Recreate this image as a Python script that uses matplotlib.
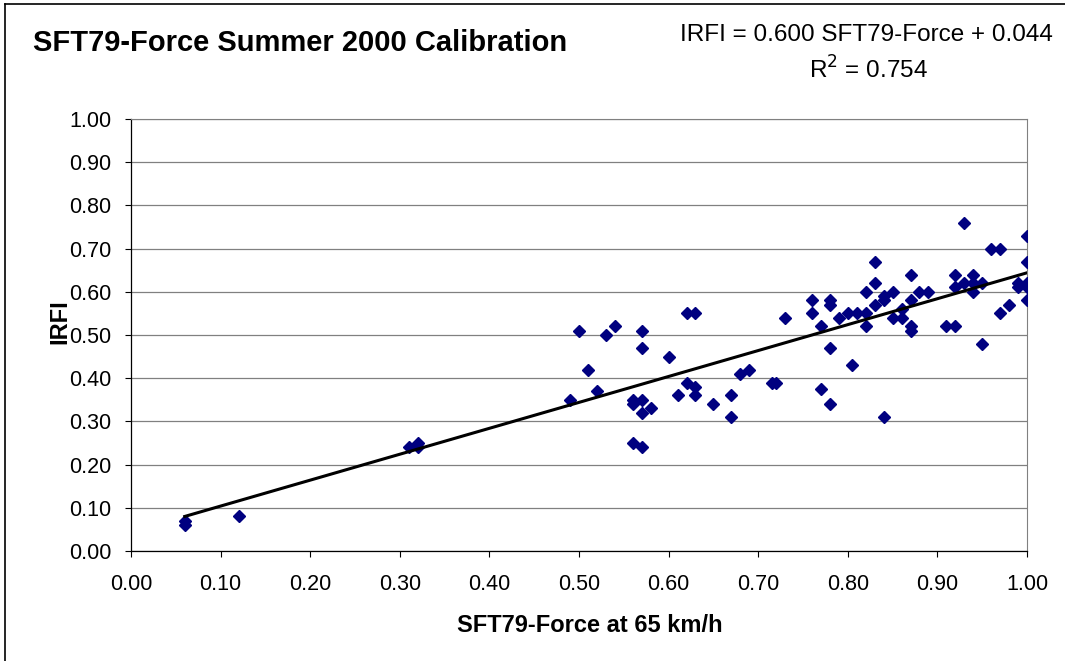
import matplotlib
matplotlib.use("Agg")
import matplotlib.pyplot as plt
from matplotlib.lines import Line2D
import numpy as np

plt.rcParams['font.family'] = ['Liberation Sans', 'DejaVu Sans']

# data
sft79_force = [0.06, 0.06, 0.12,
               0.31, 0.32, 0.32,
               0.49, 0.50, 0.51, 0.52, 0.53, 0.54,
               0.56, 0.56, 0.56,
               0.57, 0.57, 0.57, 0.57, 0.57,
               0.58, 0.60, 0.61, 0.62, 0.62,
               0.63, 0.63, 0.63, 0.65, 0.67, 0.67,
               0.68, 0.69, 0.715, 0.72, 0.73,
               0.76, 0.76, 0.77, 0.77,
               0.78, 0.78, 0.78, 0.78,
               0.79, 0.80, 0.805, 0.81,
               0.82, 0.82, 0.82,
               0.83, 0.83, 0.83,
               0.84, 0.84, 0.84,
               0.85, 0.85, 0.86, 0.86,
               0.87, 0.87, 0.87, 0.87,
               0.88, 0.89, 0.91, 0.92, 0.92, 0.92,
               0.93, 0.93, 0.94, 0.94, 0.94,
               0.95, 0.95, 0.96, 0.97, 0.97, 0.98,
               0.99, 0.99, 1.00, 1.00, 1.00, 1.00, 1.00]
irfi = [0.07, 0.06, 0.08,
        0.24, 0.25, 0.24,
        0.35, 0.51, 0.42, 0.37, 0.50, 0.52,
        0.35, 0.34, 0.25,
        0.51, 0.47, 0.35, 0.32, 0.24,
        0.33, 0.45, 0.36, 0.55, 0.39,
        0.55, 0.38, 0.36, 0.34, 0.36, 0.31,
        0.41, 0.42, 0.39, 0.39, 0.54,
        0.58, 0.55, 0.52, 0.375,
        0.58, 0.57, 0.47, 0.34,
        0.54, 0.55, 0.43, 0.55,
        0.60, 0.55, 0.52,
        0.67, 0.62, 0.57,
        0.59, 0.58, 0.31,
        0.60, 0.54, 0.56, 0.54,
        0.64, 0.58, 0.52, 0.51,
        0.60, 0.60, 0.52, 0.52, 0.64, 0.61,
        0.76, 0.62, 0.64, 0.62, 0.60,
        0.62, 0.48, 0.70, 0.70, 0.55, 0.57,
        0.62, 0.61, 0.73, 0.67, 0.62, 0.61, 0.58]

slope = 0.600
intercept = 0.044
r_squared = 0.754

ticks = [i / 10 for i in range(11)]

fig = plt.figure(figsize=(10.65, 6.61), dpi=100)
ax = fig.add_axes([131 / 1065, 1 - 551 / 661, 896 / 1065, 432 / 661])

ax.plot(sft79_force, irfi, linestyle='none', marker='D', ms=6.2,
        color='#000080', mec='#000080', zorder=3)

xs = np.array([min(sft79_force), max(sft79_force)])
ax.plot(xs, slope * xs + intercept, color='black', lw=2.2, zorder=4)

ax.set_xlim(0, 1)
ax.set_ylim(0, 1)
ax.set_xticks(ticks)
ax.set_yticks(ticks)
ax.set_xticklabels([f"{t:.2f}" for t in ticks])
ax.set_yticklabels([f"{t:.2f}" for t in ticks])
ax.tick_params(axis='both', direction='out', length=4.5, width=0.8,
               labelsize=15.5, color='black')
ax.tick_params(axis='x', pad=12)
ax.tick_params(axis='y', pad=9.5)

ax.grid(axis='y', color='#808080', lw=0.9, zorder=1)
ax.set_axisbelow(True)
for side in ['left', 'bottom']:
    ax.spines[side].set_color('black')
    ax.spines[side].set_linewidth(0.9)
ax.spines['right'].set_color('#808080')
ax.spines['top'].set_color('#808080')

fig.text(590 / 1065, 1 - 626 / 661, 'SFT79-Force at 65 km/h', ha='center',
         va='center', fontsize=17, fontweight='bold')
fig.text(60 / 1065, 1 - 322 / 661, 'IRFI', ha='center', va='center',
         rotation=90, fontsize=17, fontweight='bold')

fig.text(33 / 1065, 1 - 43 / 661, 'SFT79-Force Summer 2000 Calibration',
         ha='left', va='center', fontsize=21, fontweight='bold')
fig.text(1053 / 1065, 1 - 35 / 661,
         f'IRFI = {slope:.3f} SFT79-Force + {intercept:.3f}',
         ha='right', va='center', fontsize=17.5)
fig.text(868 / 1065, 1 - 70 / 661, f'R$^2$ = {r_squared:.3f}',
         ha='center', va='center', fontsize=17.5)

# outer chart frame (only left and top edges visible)
fig.add_artist(Line2D([5 / 1065, 5 / 1065], [0, 1 - 4 / 661],
                      transform=fig.transFigure, color='black', lw=1.2))
fig.add_artist(Line2D([5 / 1065, 1], [1 - 4 / 661, 1 - 4 / 661],
                      transform=fig.transFigure, color='black', lw=1.2))

fig.savefig('out.png', dpi=100)
